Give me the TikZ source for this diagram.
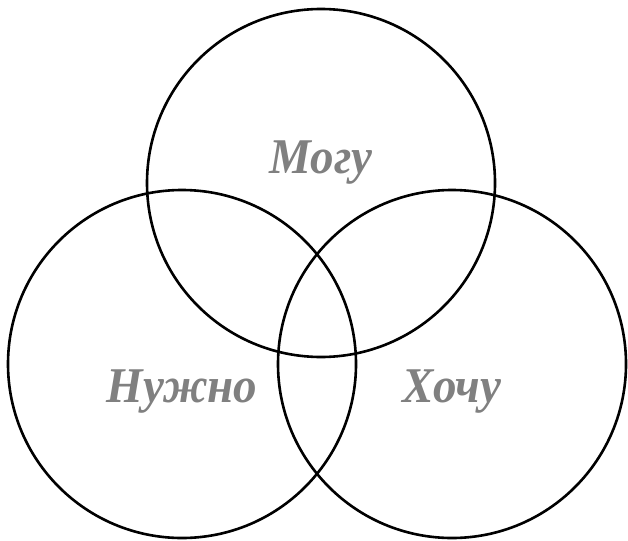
\documentclass[tikz,border=0pt]{standalone}
\usepackage{fontspec}
\setmainfont{Liberation Serif}
\usetikzlibrary{positioning}

\begin{document}
\begin{tikzpicture}[x=1pt, y=-1pt, ring/.style={draw=black, line width=2.6pt},
    word/.style={text=black!50, anchor=base, inner sep=0pt, xscale=0.94, font=\fontsize{50}{54}\selectfont\bfseries\itshape}]
    \useasboundingbox (0,0) rectangle (628,540);
    % Centres of the three circles
    \coordinate (mogcentre) at (321,183);
    \coordinate (nuzhcentre) at (182,364);
    \coordinate (khochcentre) at (452,364);

    % Draw top circle
    \draw[ring] (mogcentre) circle (174pt);
    % Draw left circle
    \draw[ring] (nuzhcentre) circle (174pt);
    % Draw right circle
    \draw[ring] (khochcentre) circle (174pt);

    % Labels
    \node[word] (mogu) at (321,173) {Могу};
    \node[word] (nuzhno) at (182,402) {Нужно};
    \node[word] (khochu) at (452,402) {Хочу};

\end{tikzpicture}
\end{document}
